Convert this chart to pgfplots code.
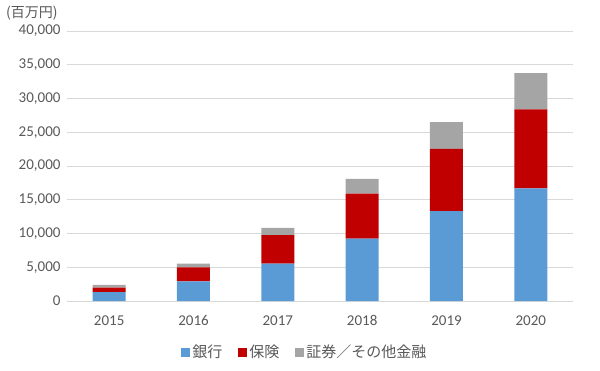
\documentclass[border=0pt]{standalone}
\usepackage{fontspec}
\setmainfont{Carlito}
\newfontfamily\jp{Noto Sans CJK JP}
\usepackage{pgfplots}
\pgfplotsset{compat=1.18}
\definecolor{cblue}{HTML}{5B9BD5}
\definecolor{cred}{HTML}{C00000}
\definecolor{cgray}{HTML}{A5A5A5}
\definecolor{cgrid}{HTML}{D9D9D9}
\definecolor{ctext}{HTML}{595959}
\begin{document}
\begin{tikzpicture}[x=1pt,y=1pt]
\useasboundingbox (0,0) rectangle (600,370);
\node[anchor=west, text=ctext, font={\fontsize{14}{16}\selectfont\jp}, inner sep=0pt] at (6,357) {(百万円)};
\begin{axis}[
  at={(67pt,69pt)}, anchor=south west,
  scale only axis, width=506pt, height=270pt,
  ybar stacked, bar width=33pt,
  xmin=-0.5, xmax=5.5, ymin=0, ymax=40000,
  xtick=data, xticklabels={2015,2016,2017,2018,2019,2020},
  ytick={0,5000,...,40000},
  scaled y ticks=false,
  /pgf/number format/.cd, 1000 sep={,}, assume math mode=true, /pgfplots/.cd,
  ymajorgrids, grid style={cgrid, line width=0.8pt},
  major tick length=0pt,
  axis x line*=bottom,
  axis y line*=left,
  x axis line style={cgrid, line width=0.8pt, -},
  y axis line style={draw=none},
  ticklabel style={text=ctext, font=\fontsize{15}{17}\selectfont},
  yticklabel style={xshift=-3pt},
  xticklabel style={yshift=-11pt},
  legend style={at={(0.47,-0.19)}, anchor=center, draw=none, legend columns=-1,
    font=\fontsize{15}{17}\selectfont\jp, text=ctext,
    /tikz/every even column/.append style={column sep=14pt}},
  legend image code/.code={\fill[#1] (0pt,-4.5pt) rectangle (9pt,4.5pt);},
]
\addplot[fill=cblue, draw=none] coordinates {(0,1300) (1,2900) (2,5550) (3,9250) (4,13300) (5,16700)};
\addplot[fill=cred, draw=none] coordinates {(0,700) (1,2100) (2,4200) (3,6650) (4,9250) (5,11700)};
\addplot[fill=cgray, draw=none] coordinates {(0,400) (1,550) (2,1100) (3,2200) (4,3950) (5,5350)};
\legend{銀行,保険,証券／その他金融}
\end{axis}
\end{tikzpicture}
\end{document}
